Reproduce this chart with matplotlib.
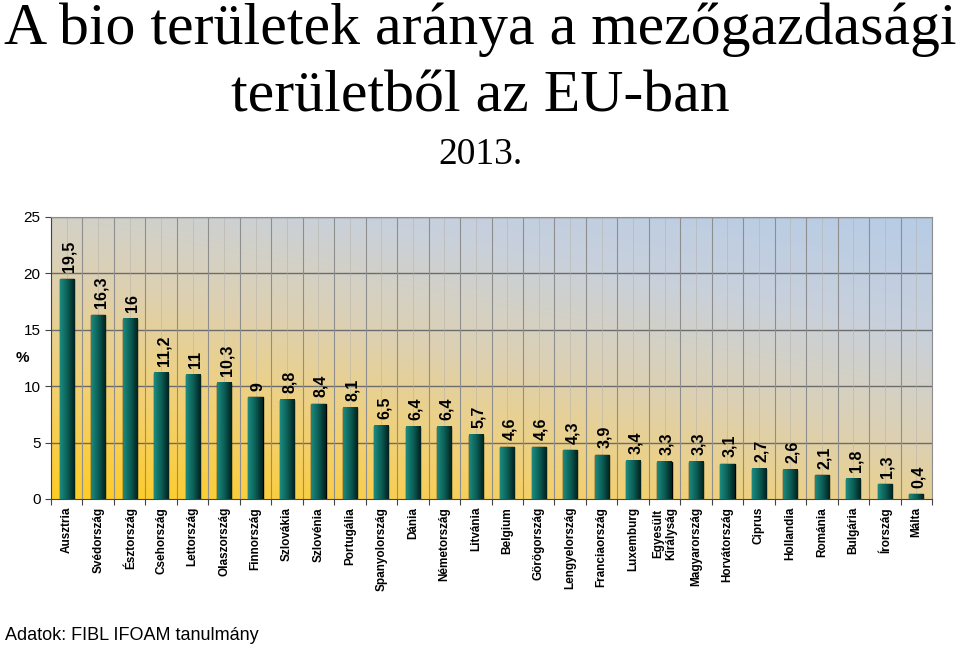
import matplotlib.pyplot as plt
import numpy as np
from matplotlib.colors import LinearSegmentedColormap

countries = ['Ausztria', 'Svédország', 'Észtország', 'Csehország', 'Lettország',
             'Olaszország', 'Finnország', 'Szlovákia', 'Szlovénia', 'Portugália',
             'Spanyolország', 'Dánia', 'Németország', 'Litvánia', 'Belgium',
             'Görögország', 'Lengyelország', 'Franciaország', 'Luxemburg',
             'Egyesült\nKirályság', 'Magyarország', 'Horvátország', 'Ciprus',
             'Hollandia', 'Románia', 'Bulgária', 'Írország', 'Málta']
values = [19.5, 16.3, 16, 11.2, 11, 10.3, 9, 8.8, 8.4, 8.1, 6.5, 6.4, 6.4, 5.7,
          4.6, 4.6, 4.3, 3.9, 3.4, 3.3, 3.3, 3.1, 2.7, 2.6, 2.1, 1.8, 1.3, 0.4]
yticks = [0, 5, 10, 15, 20, 25]

plt.rcParams['font.family'] = ['Liberation Sans', 'DejaVu Sans']

fig = plt.figure(figsize=(9.6, 6.47), dpi=100)
ax = fig.add_axes([51 / 960, 1 - 499 / 647, 881 / 960, 282 / 647])

n = len(values)
x = np.arange(n)

# diagonal gradient background: yellow bottom-left -> light blue top-right
gx, gy = np.meshgrid(np.linspace(0, 1, 200), np.linspace(0, 1, 200))
g = 0.5 * gx + 0.8 * gy
g = g / g.max()
cmap = LinearSegmentedColormap.from_list('bg', ['#ffcc22', '#f3d070', '#ddd0b2', '#c8d0dc', '#b6cce6'])
ax.imshow(g, extent=[-0.5, n - 0.5, 0, 25], origin='lower', aspect='auto',
          cmap=cmap, zorder=0)

for v in [5, 10, 15, 20, 25]:
    ax.axhline(v, color='#6c6c6c', lw=1.0, zorder=1)
for i in range(n + 1):
    ax.axvline(i - 0.5, color='#8e8e8e', lw=0.8, zorder=1)
for i in range(n):
    ax.axvline(i, color='#b4b0a8', lw=0.6, alpha=0.6, zorder=1)

bars = ax.bar(x, values, width=0.45, color='#0b5e56', edgecolor='black',
              linewidth=1.0, zorder=3)
# shading on the bars to give the gradient look
scm = LinearSegmentedColormap.from_list('bar', ['#1c8a7e', '#0b5e56', '#02201d'])
for b in bars:
    bx, bw, bh = b.get_x(), b.get_width(), b.get_height()
    shade = np.linspace(0, 1, 50).reshape(1, -1)
    ax.imshow(shade, extent=[bx, bx + bw, 0, bh], aspect='auto', cmap=scm, zorder=3.5)

for xi, v in zip(x, values):
    lbl = ('%g' % v).replace('.', ',')
    ax.text(xi + 0.08, v + 0.6, lbl, rotation=90, ha='center', va='bottom',
            fontsize=11.5, fontweight='bold', zorder=4)

ax.set_xlim(-0.5, n - 0.5)
ax.set_ylim(0, 25)
ax.set_yticks(yticks)
ax.set_yticklabels([str(t) for t in yticks], fontsize=11)
ax.set_xticks(np.arange(n + 1) - 0.5, minor=False)
ax.set_xticklabels([])
ax.tick_params(axis='x', length=4, color='#444444')
ax.tick_params(axis='y', length=4, color='#444444')
for xi, c in zip(x, countries):
    ax.text(xi, -0.7, c, rotation=90, ha='center', va='top', fontsize=8.5,
            fontweight='bold', linespacing=1.1)
ax.spines['top'].set_color('#8e8e8e')
ax.spines['right'].set_color('#8e8e8e')
ax.spines['left'].set_color('#444444')
ax.spines['bottom'].set_color('#444444')

fig.text(22 / 960, 1 - 358 / 647, '%', fontsize=11, fontweight='bold',
         ha='center', va='center')

fig.text(0.5, 1 - 30 / 647, 'A bio területek aránya a mezőgazdasági',
         family='Liberation Serif', fontsize=43, ha='center', va='center')
fig.text(0.5, 1 - 98 / 647, 'területből az EU-ban',
         family='Liberation Serif', fontsize=43, ha='center', va='center')
fig.text(0.5, 1 - 155 / 647, '2013.', family='Liberation Serif', fontsize=27,
         ha='center', va='center')
fig.text(5 / 960, 1 - 635 / 647, 'Adatok: FIBL IFOAM tanulmány', fontsize=13,
         ha='left', va='center')

fig.savefig('out.png', dpi=100)
